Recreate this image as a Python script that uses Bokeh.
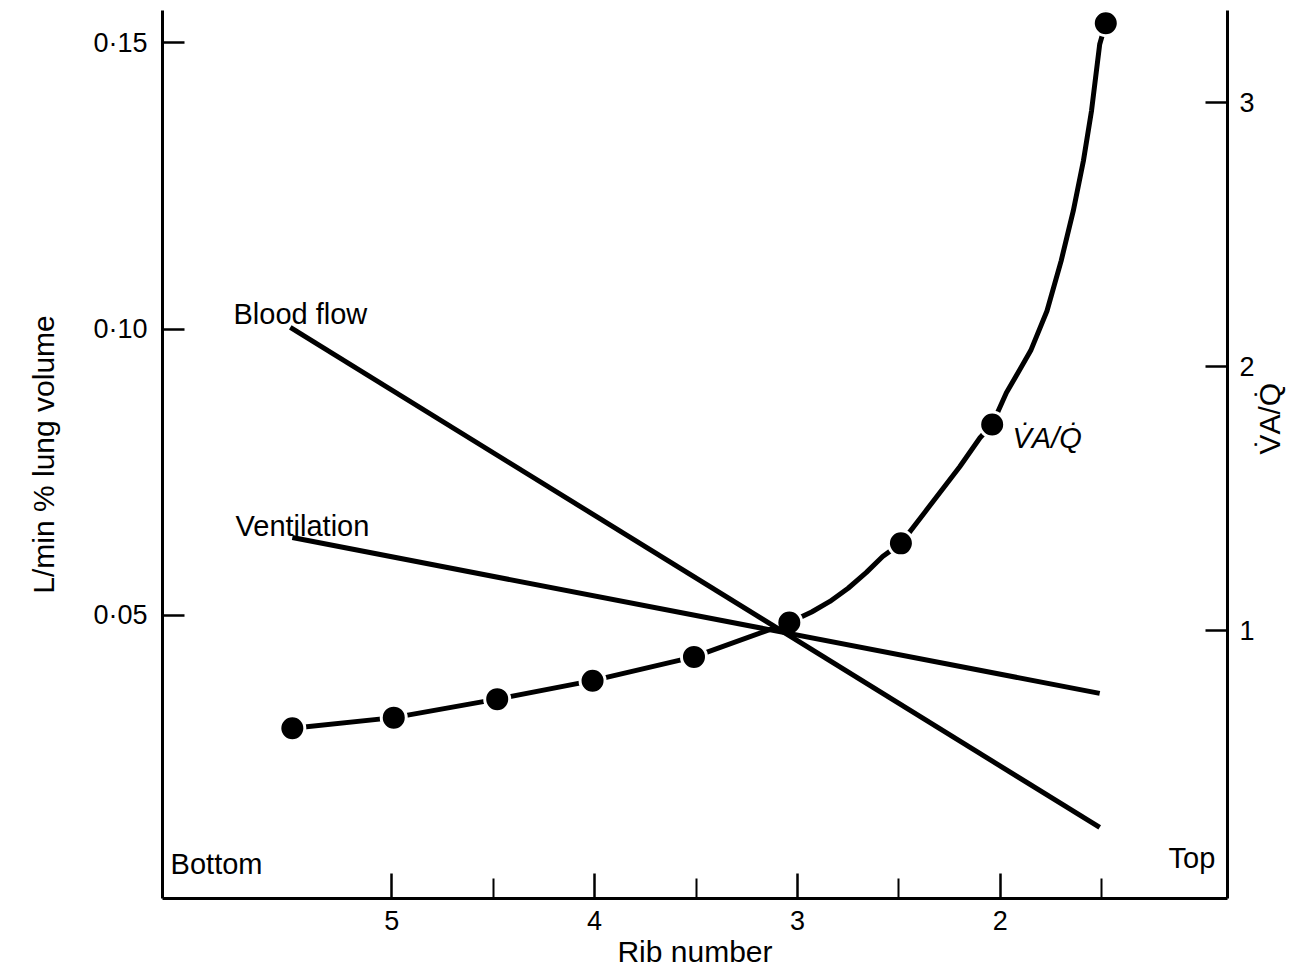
import math
from bokeh.plotting import figure
from bokeh.models import Range1d, LinearAxis, FixedTicker, Label
from bokeh.embed import file_html
from bokeh.resources import INLINE

# ---- data ----
# V/Q points (right axis) at rib positions
vq_rib = [5.49, 4.99, 4.48, 4.01, 3.51, 3.04, 2.49, 2.04, 1.48]
vq_val = [0.63, 0.67, 0.74, 0.81, 0.90, 1.03, 1.33, 1.78, 3.30]
# traced V/Q curve through the points
vq_curve_rib = [5.49, 4.99, 4.48, 4.01, 3.51, 3.04, 2.93, 2.84, 2.75, 2.66, 2.58, 2.49,
                2.37, 2.20, 2.10, 2.04, 1.97, 1.85, 1.77, 1.70, 1.64, 1.59, 1.55, 1.51, 1.48]
vq_curve_val = [0.63, 0.67, 0.74, 0.81, 0.90, 1.03, 1.07, 1.11, 1.16, 1.22, 1.28, 1.33,
                1.45, 1.62, 1.73, 1.78, 1.90, 2.06, 2.21, 2.40, 2.59, 2.78, 2.97, 3.22, 3.30]
# blood flow and ventilation (left axis, L/min % lung volume)
blood_rib = [5.50, 1.51]
blood_val = [0.1003, 0.0130]
vent_rib = [5.49, 1.51]
vent_val = [0.0636, 0.0364]

x_ticks = [5, 4, 3, 2]
x_minor = [4.5, 3.5, 2.5, 1.5]
left_ticks = [0.05, 0.10, 0.15]
left_labels = ["0·05", "0·10", "0·15"]
right_ticks = [1, 2, 3]
right_labels = ["1", "2", "3"]

FONT = "Liberation Sans"
TICK_FS = "27px"
WORD_FS = "29px"
AXL_FS = "30px"

p = figure(width=1307, height=976, output_backend="svg", toolbar_location=None,
           x_range=Range1d(6.13, 0.88), y_range=Range1d(0.0006, 0.1556),
           min_border_left=162, min_border_right=80, min_border_top=10,
           min_border_bottom=78, background_fill_color="white",
           border_fill_color="white", outline_line_color=None)
p.xgrid.visible = False
p.ygrid.visible = False
p.extra_y_ranges = {"vq": Range1d(-0.015, 3.348)}

# bottom axis
xa = p.xaxis[0]
xa.ticker = FixedTicker(ticks=x_ticks, minor_ticks=x_minor)
xa.axis_label = "Rib number"

# left axis
ya = p.yaxis[0]
ya.ticker = FixedTicker(ticks=left_ticks)
ya.major_label_overrides = {t: s for t, s in zip(left_ticks, left_labels)}
ya.axis_label = "L/min % lung volume"

# right axis
ra = LinearAxis(y_range_name="vq", ticker=FixedTicker(ticks=right_ticks),
                axis_label="V̇A/Q̇")
ra.major_label_overrides = {t: s for t, s in zip(right_ticks, right_labels)}
if "axis_label_orientation" in ra.properties():
    ra.axis_label_orientation = math.pi / 2
p.add_layout(ra, "right")

for ax in [xa, ya, ra]:
    ax.axis_line_width = 3
    ax.axis_line_color = "black"
    ax.major_tick_line_width = 2.5
    ax.major_tick_line_color = "black"
    ax.major_tick_out = 0
    ax.major_tick_in = 22
    ax.minor_tick_line_color = None
    ax.major_label_text_font = FONT
    ax.major_label_text_font_size = TICK_FS
    ax.major_label_text_color = "black"
    ax.axis_label_text_font = FONT
    ax.axis_label_text_font_size = AXL_FS
    ax.axis_label_text_font_style = "normal"
    ax.axis_label_text_color = "black"

xa.major_tick_in = 25
xa.minor_tick_line_color = "black"
xa.minor_tick_line_width = 2
xa.minor_tick_in = 20
xa.minor_tick_out = 0
xa.major_label_standoff = 12
xa.axis_label_standoff = 2
ya.major_label_standoff = 15
ya.axis_label_standoff = 30
ra.major_label_standoff = 12
ra.axis_label_standoff = 12

# data
p.line(vq_curve_rib, vq_curve_val, y_range_name="vq", line_color="black", line_width=5)
p.scatter(vq_rib, vq_val, y_range_name="vq", size=25, fill_color="black",
          line_color="white", line_width=3)
p.line(blood_rib, blood_val, line_color="black", line_width=5)
p.line(vent_rib, vent_val, line_color="black", line_width=5)

# annotations
def lab(x, y, t, align="left", style="normal", yr="default", fs=WORD_FS):
    p.add_layout(Label(x=x, y=y, text=t, text_font=FONT, text_font_size=fs,
                       text_align=align, text_baseline="alphabetic",
                       text_font_style=style, text_color="black", y_range_name=yr))

lab(5.78, 0.1027, "Blood flow")
lab(5.77, 0.0657, "Ventilation")
lab(6.09, 0.0067, "Bottom")
lab(0.94, 0.0077, "Top", align="right")
lab(1.94, 1.73, "V̇A/Q̇", style="italic", yr="vq")

open("out.html", "w").write(file_html(p, INLINE))
